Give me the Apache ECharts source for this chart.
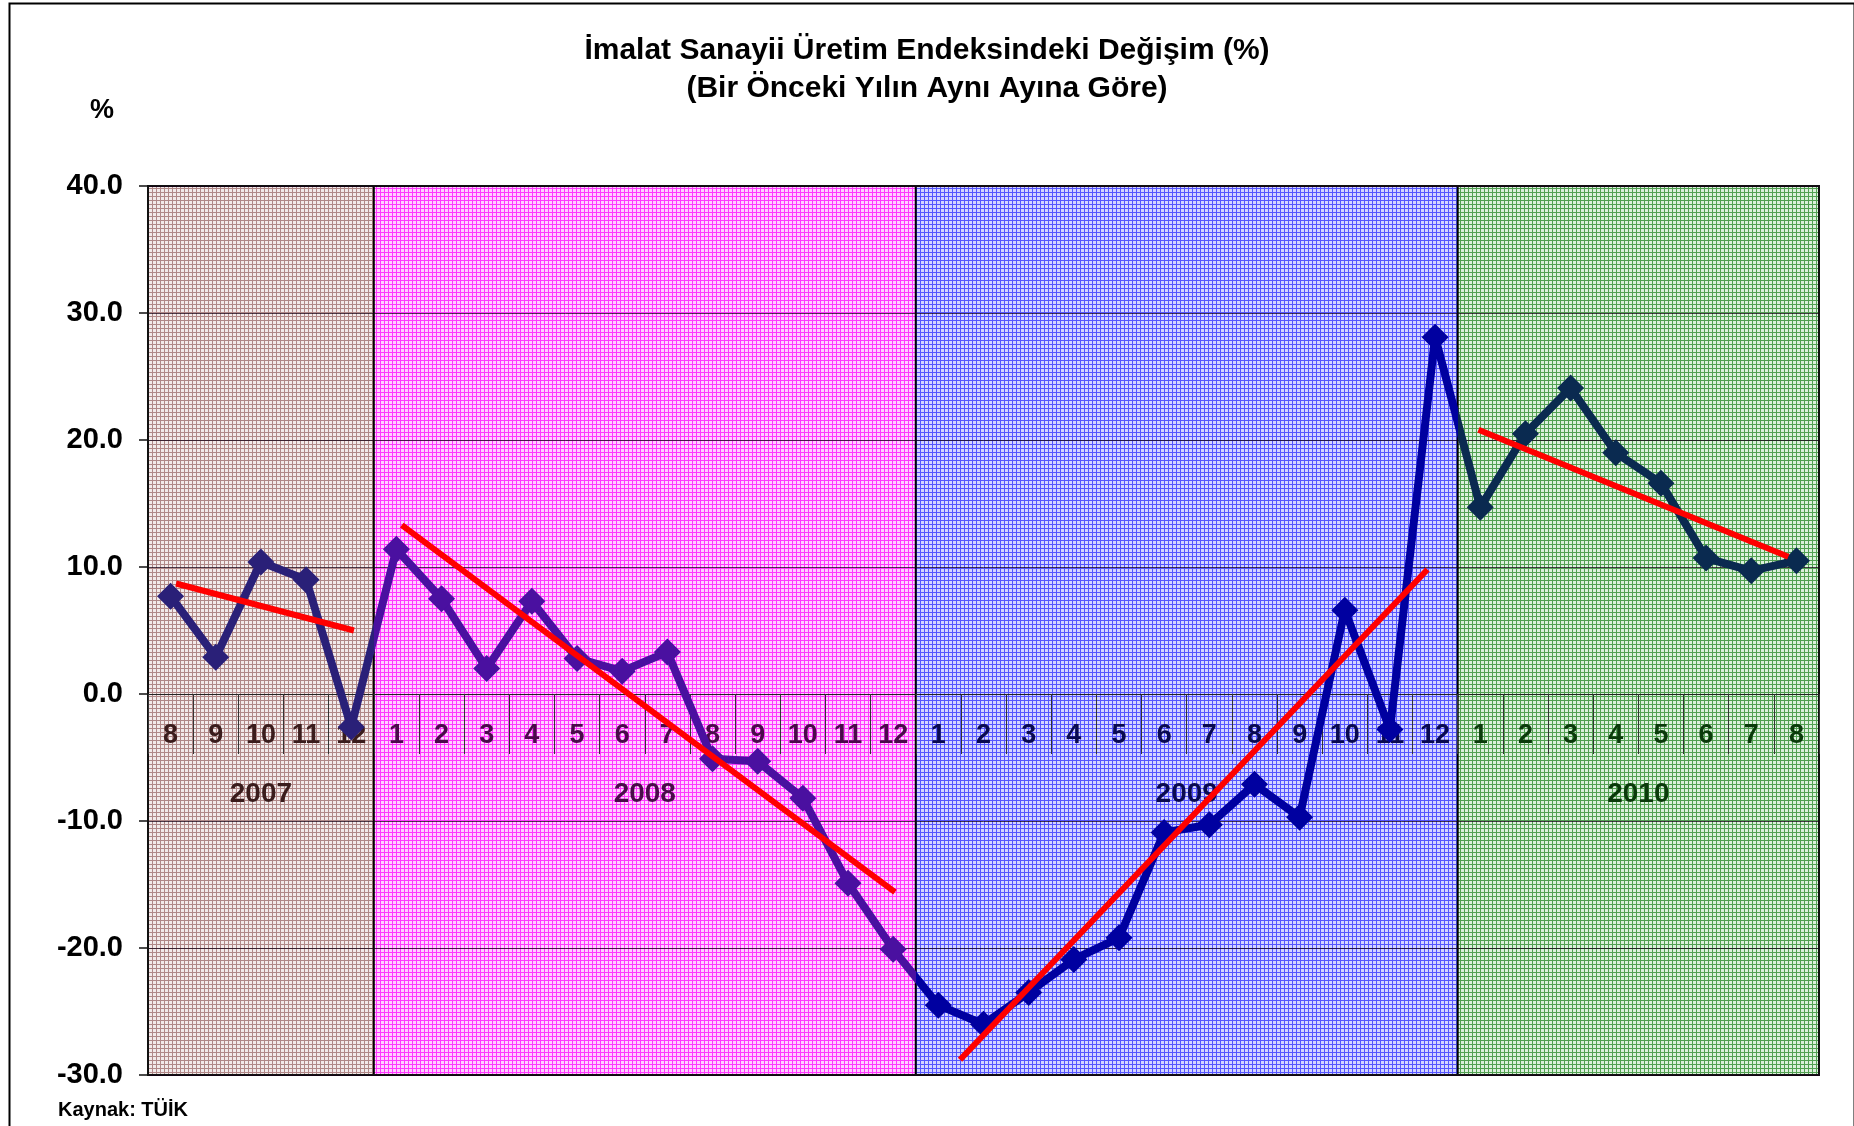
<!DOCTYPE html>
<html>
<head>
<meta charset="utf-8">
<title>İmalat Sanayii Üretim Endeksindeki Değişim</title>
<script src="https://cdn.jsdelivr.net/npm/echarts@6/dist/echarts.min.js"></script>
<style>
  html, body { margin: 0; padding: 0; background: #ffffff; }
  #chart { width: 1854px; height: 1126px; }
</style>
</head>
<body>
<div id="chart"></div>
<script>
// ---- data ----
var years = ['2007', '2008', '2009', '2010'];
var months2007 = ['8', '9', '10', '11', '12'];
var months2008 = ['1', '2', '3', '4', '5', '6', '7', '8', '9', '10', '11', '12'];
var months2009 = ['1', '2', '3', '4', '5', '6', '7', '8', '9', '10', '11', '12'];
var months2010 = ['1', '2', '3', '4', '5', '6', '7', '8'];

var values2007 = [7.7, 2.9, 10.4, 9.0, -2.6];
var values2008 = [11.4, 7.5, 2.0, 7.3, 2.8, 1.8, 3.3, -5.1, -5.3, -8.2, -14.9, -20.1];
var values2009 = [-24.5, -26.0, -23.5, -20.9, -19.2, -10.9, -10.3, -7.1, -9.7, 6.6, -2.8, 28.1];
var values2010 = [14.7, 20.5, 24.1, 19.0, 16.6, 10.7, 9.7, 10.5];

// red trend lines: [position in month slots, value] at each end
var trend2007 = [[0.62, 8.7], [4.56, 5.0]];
var trend2008 = [[5.62, 13.3], [16.54, -15.6]];
var trend2009 = [[17.98, -28.8], [28.33, 9.8]];
var trend2010 = [[29.46, 20.8], [36.32, 10.8]];

var yTicks = [-30, -20, -10, 0, 10, 20, 30, 40];

// ---- styles ----
var FONT = '"Liberation Sans", Arial, sans-serif';
var MONTH_LABEL_Y = -3.3;   // month labels sit just under the zero line
var YEAR_LABEL_Y = -7.9;
var lineColors = ['#2a2078', '#4a10a0', '#0000a0', '#0a2a50'];
var textColors = ['#3a1c1c', '#4a0a4a', '#0a0a50', '#0a3a0a'];
var patternBg = ['#f2eaea', '#ffd0ff', '#d4d4ff', '#dcf0dc'];
var patternFg = ['#b08888', '#ff38ff', '#5555ff', '#52a052'];

function makePattern(bg, fg) {
	var c = document.createElement('canvas');
	c.width = 4;
	c.height = 4;
	var ctx = c.getContext('2d');
	ctx.fillStyle = bg;
	ctx.fillRect(0, 0, 4, 4);
	ctx.fillStyle = fg;
	ctx.fillRect(0, 0, 4, 1);
	ctx.fillRect(0, 0, 1, 4);
	return { image: c, repeat: 'repeat' };
}
var patterns = patternBg.map(function (bg, i) { return makePattern(bg, patternFg[i]); });

// ---- build the series from the arrays ----
var sectionMonths = [months2007, months2008, months2009, months2010];
var sectionValues = [values2007, values2008, values2009, values2010];
var sectionTrends = [trend2007, trend2008, trend2009, trend2010];

var categories = [];
var sectionOf = [];
var lineData = [];
var monthSlots = [];
var sections = [];
var start = 0;
sectionMonths.forEach(function (m, s) {
	m.forEach(function (label, i) {
		monthSlots.push([start + i + 0.5, categories.length]);
		categories.push(label);
		sectionOf.push(s);
		lineData.push([start + i + 0.5, sectionValues[s][i]]);
	});
	sections.push([start, start + m.length, s]);
	start += m.length;
});
var total = start;

var pieces = sections.map(function (b) {
	return { gte: b[0], lt: b[1], color: lineColors[b[2]] };
});
pieces[pieces.length - 1] = { gte: sections[sections.length - 1][0], color: lineColors[sections.length - 1] };

var trendSeries = sectionTrends.map(function (t) {
	return {
		type : 'line',
		xAxisIndex : 1,
		yAxisIndex : 0,
		data : t,
		symbol : 'none',
		silent : true,
		z : 12,
		lineStyle : { color : '#ff0000', width : 6 }
	};
});

var myChart = echarts.init(document.getElementById('chart'));
var option = {
	animation : false,
	backgroundColor : '#ffffff',
	title : [ {
		text : 'İmalat Sanayii Üretim Endeksindeki Değişim (%)\n(Bir Önceki Yılın Aynı Ayına Göre)',
		left : 'center',
		top : 32,
		padding : 0,
		textStyle : {
			fontFamily : FONT,
			fontWeight : 'bold',
			fontSize : 30,
			lineHeight : 38,
			color : '#000'
		}
	}, {
		text : '%',
		left : 90,
		top : 97,
		padding : 0,
		textStyle : { fontFamily : FONT, fontWeight : 'bold', fontSize : 27, color : '#000' }
	}, {
		text : 'Kaynak: TÜİK',
		left : 58,
		top : 1100,
		padding : 0,
		textStyle : { fontFamily : FONT, fontWeight : 'bold', fontSize : 20, color : '#000' }
	} ],
	graphic : [ {
		type : 'rect',
		left : 7,
		top : 1,
		shape : { width : 1845, height : 1160 },
		style : { fill : 'none', stroke : '#000', lineWidth : 2 },
		silent : true
	} ],
	grid : {
		left : 148,
		right : 35,
		top : 186,
		bottom : 51,
		show : true,
		z : 3,
		backgroundColor : 'transparent',
		borderColor : '#111',
		borderWidth : 2
	},
	visualMap : {
		type : 'piecewise',
		show : false,
		dimension : 0,
		seriesIndex : 2,
		pieces : pieces
	},
	xAxis : [ {
		type : 'category',
		data : categories,
		boundaryGap : true,
		position : 'bottom',
		z : 3,
		axisLine : { show : true, onZero : true, lineStyle : { color : '#222', width : 1 } },
		axisTick : { show : true, interval : 0, length : 60, lineStyle : { color : '#333', width : 1 } },
		axisLabel : { show : false },
		splitLine : { show : false }
	}, {
		type : 'value',
		min : 0,
		max : total,
		show : false
	} ],
	yAxis : {
		type : 'value',
		min : yTicks[0],
		max : yTicks[yTicks.length - 1],
		interval : yTicks[1] - yTicks[0],
		z : 3,
		axisLine : { show : true, onZero : false, lineStyle : { color : '#111', width : 2 } },
		axisTick : { show : true, length : 9, lineStyle : { color : '#111', width : 1.5 } },
		axisLabel : {
			margin : 25,
			fontFamily : FONT,
			fontWeight : 'bold',
			fontSize : 29,
			color : '#000',
			formatter : function (v) { return v.toFixed(1); }
		},
		splitLine : { show : true, lineStyle : { color : 'rgba(20,0,20,0.75)', width : 1 } }
	},
	series : [ {
		// year bands: patterned background, black separator, year name
		type : 'custom',
		coordinateSystem : 'cartesian2d',
		xAxisIndex : 1,
		yAxisIndex : 0,
		z : 1,
		silent : true,
		data : sections,
		renderItem : function (params, api) {
			var s = api.value(2);
			var x0 = api.coord([api.value(0), 0])[0];
			var x1 = api.coord([api.value(1), 0])[0];
			var yl = api.coord([0, YEAR_LABEL_Y])[1];
			var cs = params.coordSys;
			return {
				type : 'group',
				children : [ {
					type : 'rect',
					shape : { x : x0, y : cs.y, width : x1 - x0, height : cs.height },
					style : { fill : patterns[s] }
				}, {
					type : 'line',
					shape : { x1 : x0, y1 : cs.y, x2 : x0, y2 : cs.y + cs.height },
					style : { stroke : '#000', lineWidth : 2 }
				}, {
					type : 'text',
					x : (x0 + x1) / 2,
					y : yl,
					style : {
						text : years[s],
						fill : textColors[s],
						font : 'bold 28px ' + FONT,
						align : 'center',
						verticalAlign : 'middle'
					}
				} ]
			};
		}
	}, {
		// month numbers under the zero line
		type : 'custom',
		coordinateSystem : 'cartesian2d',
		xAxisIndex : 1,
		yAxisIndex : 0,
		z : 4,
		silent : true,
		data : monthSlots,
		renderItem : function (params, api) {
			var idx = api.value(1);
			var p = api.coord([api.value(0), MONTH_LABEL_Y]);
			return {
				type : 'text',
				x : p[0],
				y : p[1],
				style : {
					text : categories[idx],
					fill : textColors[sectionOf[idx]],
					font : 'bold 27px ' + FONT,
					align : 'center',
					verticalAlign : 'middle'
				}
			};
		}
	}, {
		name : 'Değişim',
		type : 'line',
		xAxisIndex : 1,
		yAxisIndex : 0,
		data : lineData,
		z : 10,
		symbol : 'diamond',
		symbolSize : 27,
		lineStyle : { width : 8 }
	} ].concat(trendSeries)
};

myChart.setOption(option);
</script>
</body>
</html>
